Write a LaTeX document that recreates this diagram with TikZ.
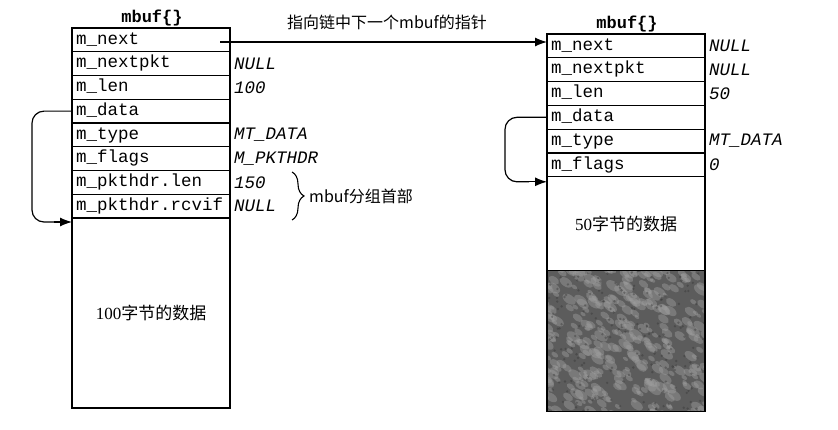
\documentclass[tikz,border=0pt]{standalone}
\usepackage{fontspec}
\setmainfont{Liberation Serif}
\setmonofont{Liberation Mono}
\newfontfamily\cjk{Noto Sans CJK SC}
\usetikzlibrary{arrows.meta,decorations.pathreplacing,calc}
\begin{document}
\begin{tikzpicture}[x=1pt,y=-1pt,
  field/.style={draw, line width=1.2pt, rectangle, anchor=north west, outer sep=0pt,
    minimum width=158pt, minimum height=23.75pt, text width=150pt, inner xsep=4pt,
    inner ysep=0pt, align=left, font=\ttfamily\fontsize{17.5}{18}\selectfont,
    text height=12pt, text depth=3.5pt},
  datafield/.style={draw, line width=1.2pt, rectangle, anchor=north west, outer sep=0pt,
    minimum width=158pt, inner sep=0pt, font=\fontsize{17}{18}\selectfont},
  value/.style={anchor=west, inner sep=0pt, font=\ttfamily\itshape\fontsize{17.5}{18}\selectfont},
  title/.style={inner sep=0pt, font=\ttfamily\bfseries\fontsize{17}{18}\selectfont},
  cjklabel/.style={inner sep=0pt, font=\cjk\fontsize{16}{18}\selectfont},
  wire/.style={line width=1.2pt},
  ptr/.style={line width=1.2pt, -{Latex[length=12pt,width=9pt]}}
]
\useasboundingbox (0,0) rectangle (838,430);

% ---------- left mbuf ----------
\node[title] (tL) at (152,18) {mbuf\{\}};
\node[field] (L1) at (72,28) {m\_next};
\node[field] (L2) at (L1.south west) {m\_nextpkt};
\node[field] (L3) at (L2.south west) {m\_len};
\node[field] (L4) at (L3.south west) {m\_data};
\node[field] (L5) at (L4.south west) {m\_type};
\node[field] (L6) at (L5.south west) {m\_flags};
\node[field] (L7) at (L6.south west) {m\_pkthdr.len};
\node[field] (L8) at (L7.south west) {m\_pkthdr.rcvif};
\node[datafield, minimum height=190pt] (Ld) at (L8.south west) {100{\cjk 字节的数据}};

\node[value] (vL2) at ($(L2.east)+(4,0)$) {NULL};
\node[value] (vL3) at ($(L3.east)+(4,0)$) {100};
\node[value] (vL5) at ($(L5.east)+(4,0)$) {MT\_DATA};
\node[value] (vL6) at ($(L6.east)+(4,0)$) {M\_PKTHDR};
\node[value] (vL7) at ($(L7.east)+(4,0)$) {150};
\node[value] (vL8) at ($(L8.east)+(4,0)$) {NULL};

% brace
\coordinate (b1) at (292,172);
\coordinate (b2) at (292,220);
\draw[line width=1.1pt, decorate, decoration={brace, amplitude=12pt}] (b1) -- (b2);
\node[cjklabel, anchor=west] (hdr) at (309,196) {mbuf分组首部};

% ---------- right mbuf ----------
\node[title] (tR) at (627,24) {mbuf\{\}};
\node[field, minimum height=23.8pt] (R1) at (547,34) {m\_next};
\node[field, minimum height=23.8pt] (R2) at (R1.south west) {m\_nextpkt};
\node[field, minimum height=23.8pt] (R3) at (R2.south west) {m\_len};
\node[field, minimum height=23.8pt] (R4) at (R3.south west) {m\_data};
\node[field, minimum height=23.8pt] (R5) at (R4.south west) {m\_type};
\node[field, minimum height=23.8pt] (R6) at (R5.south west) {m\_flags};
\node[datafield, minimum height=94pt] (Rd) at (R6.south west) {50{\cjk 字节的数据}};
\node[datafield, minimum height=141pt, fill=black!64] (Rs) at (Rd.south west) {};
\begin{scope}
  \clip (Rs.north west) rectangle (Rs.south east);
  \pgfmathsetseed{11}
  \foreach \i in {1,...,360} {
    \pgfmathsetmacro\xx{545+rnd*162}
    \pgfmathsetmacro\yy{270+rnd*145}
    \pgfmathsetmacro\rr{1.5+rnd*3}
    \fill[black!38, opacity=0.45, rotate around={-35:(\xx,\yy)}] (\xx,\yy) ellipse ({\rr*1.7} and \rr);
  }
  \foreach \i in {1,...,200} {
    \pgfmathsetmacro\xx{545+rnd*162}
    \pgfmathsetmacro\yy{270+rnd*145}
    \fill[black!80, opacity=0.4] (\xx,\yy) circle (1.3);
  }
\end{scope}
\draw[line width=1.2pt] (Rs.north west) rectangle (Rs.south east);

\node[value] (vR1) at ($(R1.east)+(4,0)$) {NULL};
\node[value] (vR2) at ($(R2.east)+(4,0)$) {NULL};
\node[value] (vR3) at ($(R3.east)+(4,0)$) {50};
\node[value] (vR5) at ($(R5.east)+(4,0)$) {MT\_DATA};
\node[value] (vR6) at ($(R6.east)+(4,0)$) {0};

% ---------- pointers ----------
\coordinate (nx) at (220,42);
\draw[ptr] (nx) -- (nx -| R1.west);
\node[cjklabel] (nlab) at (387,22) {指向链中下一个mbuf的指针};

\coordinate (la) at ($(Ld.north west)+(-18,4)$);
\draw[wire, rounded corners=12pt] (L4.west) -- ++(-40,0) |- (la);
\draw[ptr] (la) -- ($(Ld.north west)+(0,4)$);
\coordinate (ra) at ($(Rd.north west)+(-18,5)$);
\draw[wire, rounded corners=12pt] (R4.west) -- ++(-42,0) |- (ra);
\draw[ptr] (ra) -- ($(Rd.north west)+(0,5)$);
\end{tikzpicture}
\end{document}
